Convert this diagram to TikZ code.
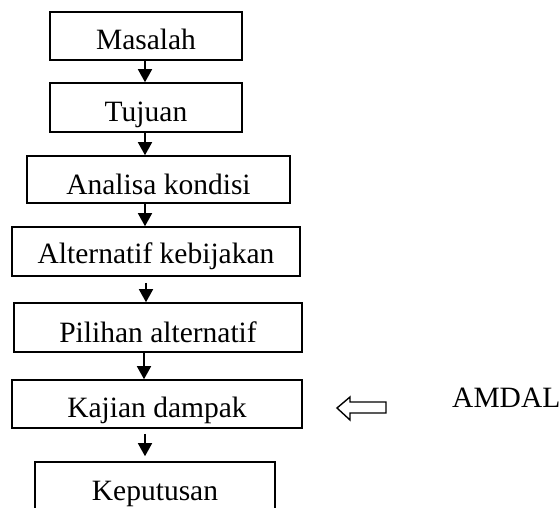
\documentclass[tikz,border=0pt]{standalone}
\usepackage{fontspec}
\setmainfont{Liberation Serif}
\usetikzlibrary{arrows.meta}
\tikzset{
  kotak/.style={draw, line width=1.6pt, inner sep=0pt, anchor=base, align=center},
  alur/.style={line width=1.6pt, -{Triangle[length=13pt,width=14pt]}},
}
\begin{document}
\begin{tikzpicture}[x=1pt,y=-1pt]
            \useasboundingbox (0,0) rectangle (560,508);
            \clip (0,0) rectangle (560,508);
            {\fontsize{29.5}{35}\selectfont

            % Drawing box Masalah
            \node [kotak, minimum width=192pt, text height=38pt, text depth=10pt] (masalah) at (146,50) {Masalah};%

            % Drawing box Tujuan
            \node [kotak, minimum width=192pt, text height=39pt, text depth=10pt] (tujuan) at (146,122) {Tujuan};%

            % Drawing box Analisa kondisi
            \node [kotak, minimum width=263pt, text height=38pt, text depth=9pt] (analisa) at (158.5,194) {Analisa kondisi};%

            % Drawing box Alternatif kebijakan
            \node [kotak, minimum width=288pt, text height=36pt, text depth=13pt] (alternatif) at (156,263) {Alternatif kebijakan};%

            % Drawing box Pilihan alternatif
            \node [kotak, minimum width=288pt, text height=39pt, text depth=10pt] (pilihan) at (158,342) {Pilihan alternatif};%

            % Drawing box Kajian dampak
            \node [kotak, minimum width=290pt, text height=37pt, text depth=11pt] (kajian) at (157,417) {Kajian dampak};%

            % Drawing box Keputusan
            \node [kotak, minimum width=240pt, text height=38pt, text depth=10pt] (keputusan) at (155,500) {Keputusan};%

            % Drawing AMDAL
            \node [anchor=base west, inner sep=0pt] (amdal) at (452,407) {AMDAL};%

            % Drawing hollow arrow towards Kajian dampak
            \draw [line width=1.4pt, line join=miter] (386,402) -- (350,402) -- (350,397) -- (337,408)
                  -- (350,420) -- (350,413) -- (386,413) -- cycle;%

            % Drawing arrows between boxes
            \draw [alur] (masalah.south -| 145,0) -- (tujuan.north -| 145,0);%
            \draw [alur] (tujuan.south -| 145,0) -- (analisa.north -| 145,0);%
            \draw [alur] (analisa.south -| 145,0) -- (alternatif.north -| 145,0);%
            \draw [alur, shorten <=6pt] (alternatif.south -| 146,0) -- (pilihan.north -| 146,0);%
            \draw [alur] (pilihan.south -| 144,0) -- (kajian.north -| 144,0);%
            \draw [alur, shorten <=5pt, shorten >=5pt] (kajian.south -| 145,0) -- (keputusan.north -| 145,0);%
            }
\end{tikzpicture}
\end{document}
